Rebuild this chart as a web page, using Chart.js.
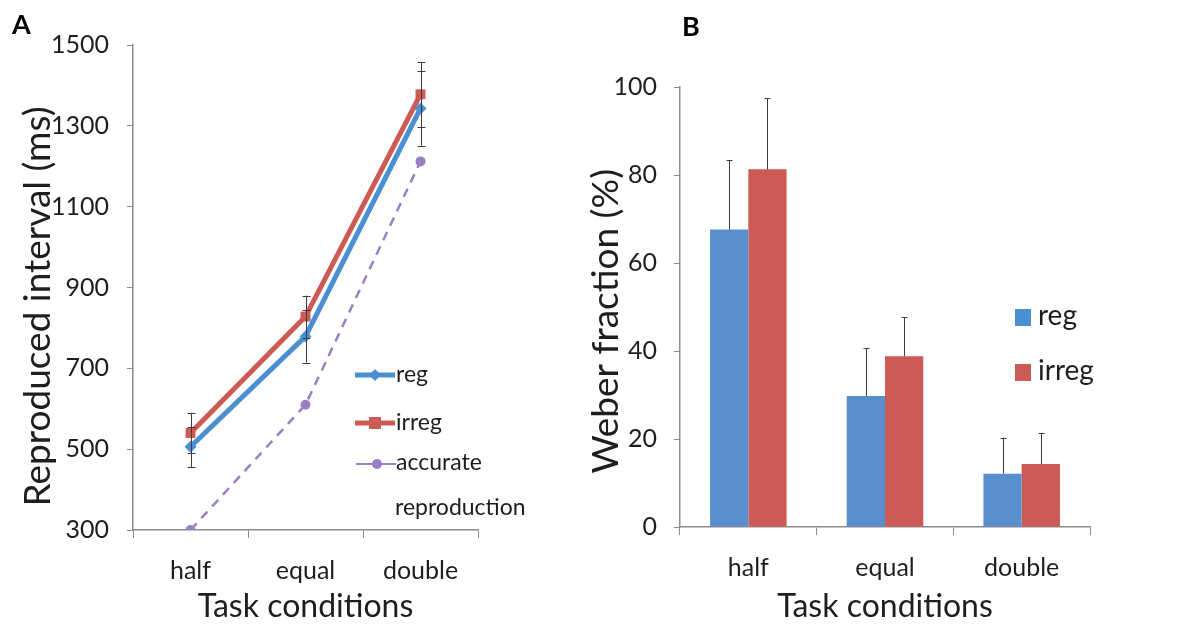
<!DOCTYPE html>
<html>
<head>
<meta charset="utf-8">
<script src="https://cdn.jsdelivr.net/npm/chart.js@4/dist/chart.umd.min.js"></script>
<style>
  body { margin: 0; background: #fff; }
  #wrap { position: relative; width: 1182px; height: 628px; }
  #chartA { position: absolute; left: 0; top: 0; }
  #chartB { position: absolute; left: 590px; top: 0; }
</style>
</head>
<body>
<div id="wrap">
  <canvas id="chartA" width="590" height="628"></canvas>
  <canvas id="chartB" width="592" height="628"></canvas>
</div>
<script>
// data
const categories = ["half", "equal", "double"];

const regInterval = [506, 779, 1343];
const irregInterval = [540, 828, 1378];
const accurateInterval = [300, 610, 1212];
const regIntervalErr = [50, 65, 92];
const irregIntervalErr = [50, 52, 80];
const intervalTicks = [300, 500, 700, 900, 1100, 1300, 1500];

const regWeber = [67.6, 29.8, 12.1];
const irregWeber = [81.3, 38.8, 14.3];
const regWeberErr = [15.8, 10.8, 8.2];
const irregWeberErr = [16.1, 8.9, 7.1];
const weberTicks = [0, 20, 40, 60, 80, 100];

const blue = "#4a8fd2";
const red = "#cc5a55";
const purple = "#9a80c2";
const textColor = "#1e1e1e";
const axisColor = "#8c8c8c";
const fontFamily = "Lato, 'Open Sans', sans-serif";

// draws error bars from dataset.err
const errorBars = {
  id: "errorBars",
  afterDatasetsDraw(chart, args, opts) {
    const ctx = chart.ctx;
    const yScale = chart.scales.y;
    ctx.save();
    ctx.strokeStyle = "#3c3c3c";
    ctx.lineWidth = 1;
    chart.data.datasets.forEach((ds, i) => {
      if (!ds.err) return;
      let meta = chart.getDatasetMeta(i);
      meta.data.forEach((el, j) => {
        let top = yScale.getPixelForValue(ds.data[j] + ds.err[j]);
        let bot = opts.upOnly ? el.y : yScale.getPixelForValue(ds.data[j] - ds.err[j]);
        let x = Math.round(el.x) + 0.5;
        ctx.beginPath();
        ctx.moveTo(x, top);
        ctx.lineTo(x, bot);
        ctx.moveTo(x - opts.cap, Math.round(top) + 0.5);
        ctx.lineTo(x + opts.cap, Math.round(top) + 0.5);
        if (!opts.upOnly) {
          ctx.moveTo(x - opts.cap, Math.round(bot) + 0.5);
          ctx.lineTo(x + opts.cap, Math.round(bot) + 0.5);
        }
        ctx.stroke();
      });
    });
    ctx.restore();
  },
};

// panel letter
function panelLabel(letter, x, y) {
  return {
    id: "panel" + letter,
    afterDraw(chart) {
      const ctx = chart.ctx;
      ctx.save();
      ctx.font = "bold 27px " + fontFamily;
      ctx.fillStyle = "#000";
      ctx.textBaseline = "middle";
      ctx.fillText(letter, x, y);
      ctx.restore();
    },
  };
}

// legend inside panel A
const legendA = {
  id: "legendA",
  afterDraw(chart) {
    const ctx = chart.ctx;
    ctx.save();
    ctx.font = "23px " + fontFamily;
    ctx.fillStyle = textColor;
    ctx.textBaseline = "middle";
    // reg
    ctx.strokeStyle = blue;
    ctx.lineWidth = 5;
    ctx.beginPath(); ctx.moveTo(355, 375); ctx.lineTo(395, 375); ctx.stroke();
    ctx.fillStyle = blue;
    ctx.beginPath();
    ctx.moveTo(375, 369); ctx.lineTo(381, 375); ctx.lineTo(375, 381); ctx.lineTo(369, 375);
    ctx.closePath(); ctx.fill();
    ctx.fillStyle = textColor;
    ctx.fillText("reg", 396, 375);
    // irreg
    ctx.strokeStyle = red;
    ctx.beginPath(); ctx.moveTo(355, 423); ctx.lineTo(395, 423); ctx.stroke();
    ctx.fillStyle = red;
    ctx.fillRect(369, 417, 12, 12);
    ctx.fillStyle = textColor;
    ctx.fillText("irreg", 396, 423);
    // accurate
    ctx.strokeStyle = purple;
    ctx.lineWidth = 2;
    ctx.beginPath(); ctx.moveTo(356, 464); ctx.lineTo(396, 464); ctx.stroke();
    ctx.fillStyle = purple;
    ctx.beginPath(); ctx.arc(377, 464, 5, 0, Math.PI * 2); ctx.fill();
    ctx.fillStyle = textColor;
    ctx.fillText("accurate", 396, 463);
    ctx.fillText("reproduction", 395, 508);
    ctx.restore();
  },
};

// legend inside panel B
const legendB = {
  id: "legendB",
  afterDraw(chart) {
    const ctx = chart.ctx;
    ctx.save();
    ctx.font = "28px " + fontFamily;
    ctx.textBaseline = "middle";
    ctx.fillStyle = blue;
    ctx.fillRect(1015 - 590, 309, 16, 17);
    ctx.fillStyle = red;
    ctx.fillRect(1015 - 590, 364, 16, 17);
    ctx.fillStyle = textColor;
    ctx.fillText("reg", 1038 - 590, 316);
    ctx.fillText("irreg", 1038 - 590, 371);
    ctx.restore();
  },
};

function yAxis(ticks, title, titleSize, titleLh, titlePad, labelPad, width) {
  return {
    min: ticks[0],
    max: ticks[ticks.length - 1],
    afterBuildTicks: (scale) => {
      scale.ticks = ticks.map((v) => ({ value: v }));
    },
    afterFit: (scale) => {
      scale.width = width;
    },
    border: { color: axisColor, width: 1.5 },
    grid: { drawOnChartArea: false, drawTicks: true, tickLength: 6, color: axisColor },
    ticks: {
      color: textColor,
      font: { family: fontFamily, size: 25 },
      padding: labelPad,
      callback: (v) => String(v),
    },
    title: {
      display: true,
      text: title,
      color: textColor,
      font: { family: fontFamily, size: titleSize, lineHeight: titleLh },
      padding: { top: titlePad, bottom: 0 },
    },
  };
}

function xAxis(height) {
  return {
    offset: true,
    afterFit: (scale) => {
      scale.height = height;
    },
    border: { color: axisColor, width: 1.5 },
    grid: { offset: true, drawOnChartArea: false, drawTicks: true, tickLength: 8, color: axisColor },
    ticks: { color: textColor, font: { family: fontFamily, size: 25 }, padding: 18 },
    title: {
      display: true,
      text: "Task conditions",
      color: textColor,
      font: { family: fontFamily, size: 32, lineHeight: 1 },
      padding: { top: 0, bottom: 5 },
    },
  };
}

new Chart(document.querySelector("#chartA"), {
  type: "line",
  data: {
    labels: categories,
    datasets: [
      {
        label: "reg",
        data: regInterval,
        err: regIntervalErr,
        borderColor: blue,
        backgroundColor: blue,
        borderWidth: 5,
        pointStyle: "rectRot",
        pointRadius: 6,
        pointBorderWidth: 0,
      },
      {
        label: "irreg",
        data: irregInterval,
        err: irregIntervalErr,
        borderColor: red,
        backgroundColor: red,
        borderWidth: 5,
        pointStyle: "rect",
        pointRadius: 7,
        pointBorderWidth: 0,
      },
      {
        label: "accurate reproduction",
        data: accurateInterval,
        borderColor: purple,
        backgroundColor: purple,
        borderWidth: 2.5,
        borderDash: [9, 7],
        pointStyle: "circle",
        pointRadius: 5,
        pointBorderWidth: 0,
      },
    ],
  },
  options: {
    responsive: false,
    animation: false,
    layout: { padding: { top: 45, right: 112, left: 0, bottom: 0 } },
    plugins: {
      legend: { display: false },
      tooltip: { enabled: false },
      errorBars: { cap: 4, upOnly: false },
    },
    scales: {
      x: xAxis(98),
      // trailing spaces nudge the title down a bit, like the original
      y: yAxis(intervalTicks, "Reproduced interval (ms)    ", 37, 1, 20, 18, 133),
    },
  },
  plugins: [errorBars, legendA, panelLabel("A", 12, 25)],
});

new Chart(document.querySelector("#chartB"), {
  type: "bar",
  data: {
    labels: categories,
    datasets: [
      {
        label: "reg",
        data: regWeber,
        err: regWeberErr,
        backgroundColor: "#5a8fcd",
        categoryPercentage: 0.56,
        barPercentage: 1,
      },
      {
        label: "irreg",
        data: irregWeber,
        err: irregWeberErr,
        backgroundColor: red,
        categoryPercentage: 0.56,
        barPercentage: 1,
      },
    ],
  },
  options: {
    responsive: false,
    animation: false,
    layout: { padding: { top: 87, right: 92, left: 0, bottom: 0 } },
    plugins: {
      legend: { display: false },
      tooltip: { enabled: false },
      errorBars: { cap: 3, upOnly: true },
    },
    scales: {
      x: xAxis(101),
      y: yAxis(weberTicks, "Weber fraction (%)   ", 37, 0.85, 0, 17, 90),
    },
  },
  plugins: [errorBars, legendB, panelLabel("B", 92, 27)],
});
</script>
</body>
</html>
